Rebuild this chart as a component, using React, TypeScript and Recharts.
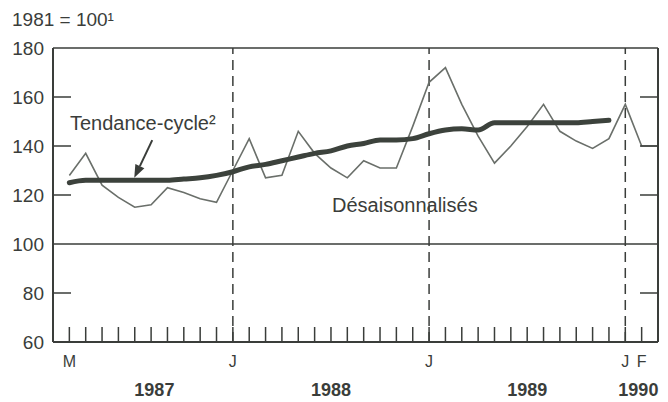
import { LineChart, Line, XAxis, YAxis, ReferenceLine } from "recharts";

// mois : mars 1987 (1) ... mars 1990 (37)
const monthIndex = [
  1, 2, 3, 4, 5, 6, 7, 8, 9, 10, 11, 12, 13, 14, 15, 16, 17, 18, 19, 20,
  21, 22, 23, 24, 25, 26, 27, 28, 29, 30, 31, 32, 33, 34, 35, 36, 37,
];
const desaisonnalises = [
  128, 137, 124, 119, 115, 116, 123, 121, 118.5, 117, 130, 143, 127, 128,
  146, 137, 131, 127, 134, 131, 131, 148, 166, 172, 157, 144, 133, 140, 148,
  157, 146, 142, 139, 143, 157, 140, 140,
];
const tendanceCycle = [
  125, 126, 126, 126, 126, 126, 126, 126.5, 127, 128, 129.5, 131.5, 132.5,
  134, 135.5, 137, 138, 140, 141, 142.5, 142.5, 143, 145, 146.5, 147, 146.5,
  149.5, 149.5, 149.5, 149.5, 149.5, 149.5, 150, 150.5,
];

const monthTicks = monthIndex.slice(0, 36);
const monthLabels: Record<number, string> = { 1: "M", 11: "J", 23: "J", 35: "J", 36: "F" };
const janLines = [11, 23, 35];
const yearTicks = [6.2, 17, 29, 35.8];
const yearLabels = ["1987", "1988", "1989", "1990"];
const yTicks = [60, 80, 100, 120, 140, 160, 180];
const rightTicks = [80, 120, 140, 160];

const data = monthIndex.map((m, i) => ({
  m,
  sa: desaisonnalises[i],
  trend: i < tendanceCycle.length ? tendanceCycle[i] : undefined,
}));

const ink = "#3a3d3a";
const font = "'Liberation Sans', Arial, Helvetica, sans-serif";

const MonthTick = (props: any) => {
  const { x, y, payload } = props;
  const label = monthLabels[payload.value];
  return (
    <g>
      <line x1={x} x2={x} y1={y} y2={y - 15} stroke={ink} strokeWidth={1.5} />
      {label && (
        <text x={x} y={y + 25} textAnchor="middle" fontSize={16} fill={ink} fontFamily={font}>
          {label}
        </text>
      )}
    </g>
  );
};

const YearTick = (props: any) => {
  const { x, y, index } = props;
  return (
    <text x={x} y={y + 24} textAnchor="middle" fontSize={18} fontWeight="bold" fill={ink} fontFamily={font}>
      {yearLabels[index]}
    </text>
  );
};

const LeftTick = (props: any) => {
  const { x, y, payload } = props;
  const v = payload.value;
  return (
    <g>
      {v !== 60 && v !== 100 && v !== 180 && (
        <line x1={x} x2={x + 18} y1={y} y2={y} stroke={ink} strokeWidth={1.5} />
      )}
      <text x={x - 9} y={y} dy="0.36em" textAnchor="end" fontSize={19} fill={ink} fontFamily={font}>
        {v}
      </text>
    </g>
  );
};

const RightTick = (props: any) => {
  const { x, y } = props;
  return <line x1={x} x2={x - 18} y1={y} y2={y} stroke={ink} strokeWidth={1.5} />;
};

const Arrow = (props: any) => {
  const { x1, y1, x2, y2 } = props;
  const a = Math.atan2(y2 - y1, x2 - x1);
  const len = 13;
  const w = 5;
  const bx = x2 - len * Math.cos(a);
  const by = y2 - len * Math.sin(a);
  const px = -Math.sin(a) * w;
  const py = Math.cos(a) * w;
  return (
    <g>
      <line x1={x1} y1={y1} x2={bx} y2={by} stroke={ink} strokeWidth={2} />
      <polygon points={`${x2},${y2} ${bx + px},${by + py} ${bx - px},${by - py}`} fill={ink} />
    </g>
  );
};

const textStyle: React.CSSProperties = {
  position: "absolute",
  fontFamily: font,
  color: ink,
  lineHeight: 1,
  whiteSpace: "nowrap",
};

export default function App() {
  return (
    <div style={{ position: "absolute", left: 0, top: 0, width: 668, height: 402, background: "#fff" }}>
      <LineChart width={668} height={402} data={data} margin={{ top: 48, right: 0, bottom: 0, left: 0 }}>
        <XAxis
          dataKey="m"
          type="number"
          domain={[0, 37]}
          ticks={monthTicks}
          interval={0}
          height={30}
          tickSize={0}
          tickMargin={0}
          tickLine={false}
          axisLine={{ stroke: ink, strokeWidth: 2 }}
          tick={<MonthTick />}
        />
        <XAxis
          xAxisId="yr"
          dataKey="m"
          type="number"
          domain={[0, 37]}
          ticks={yearTicks}
          interval={0}
          height={30}
          tickSize={0}
          tickMargin={0}
          tickLine={false}
          axisLine={false}
          tick={<YearTick />}
        />
        <YAxis
          yAxisId="l"
          domain={[60, 180]}
          ticks={yTicks}
          interval={0}
          width={53}
          tickSize={0}
          tickMargin={0}
          tickLine={false}
          axisLine={{ stroke: ink, strokeWidth: 2 }}
          tick={<LeftTick />}
        />
        <YAxis
          yAxisId="r"
          orientation="right"
          domain={[60, 180]}
          ticks={rightTicks}
          interval={0}
          width={10}
          tickSize={0}
          tickMargin={0}
          tickLine={false}
          axisLine={{ stroke: ink, strokeWidth: 2 }}
          tick={<RightTick />}
        />
        <ReferenceLine yAxisId="l" y={180} stroke={ink} strokeWidth={1.5} />
        <ReferenceLine yAxisId="l" y={100} stroke={ink} strokeWidth={1.5} />
        {janLines.map((x) => (
          <ReferenceLine key={x} yAxisId="l" x={x} stroke={ink} strokeWidth={1.5} strokeDasharray="10 6" />
        ))}
        <Line
          yAxisId="l"
          type="linear"
          dataKey="sa"
          stroke="#6a6f6a"
          strokeWidth={1.6}
          dot={false}
          isAnimationActive={false}
        />
        <Line
          yAxisId="r"
          type="monotone"
          dataKey="trend"
          stroke="#3c423c"
          strokeWidth={5}
          strokeLinecap="round"
          dot={false}
          isAnimationActive={false}
        />
        <ReferenceLine
          yAxisId="l"
          segment={[
            { x: 6.07, y: 142.4 },
            { x: 4.97, y: 127 },
          ]}
          shape={<Arrow />}
        />
      </LineChart>
      <div style={{ ...textStyle, left: 12, top: 10, fontSize: 19 }}>1981 = 100¹</div>
      <div style={{ ...textStyle, left: 70, top: 113, fontSize: 20 }}>Tendance-cycle²</div>
      <div style={{ ...textStyle, left: 332, top: 195, fontSize: 20 }}>Désaisonnalisés</div>
    </div>
  );
}
